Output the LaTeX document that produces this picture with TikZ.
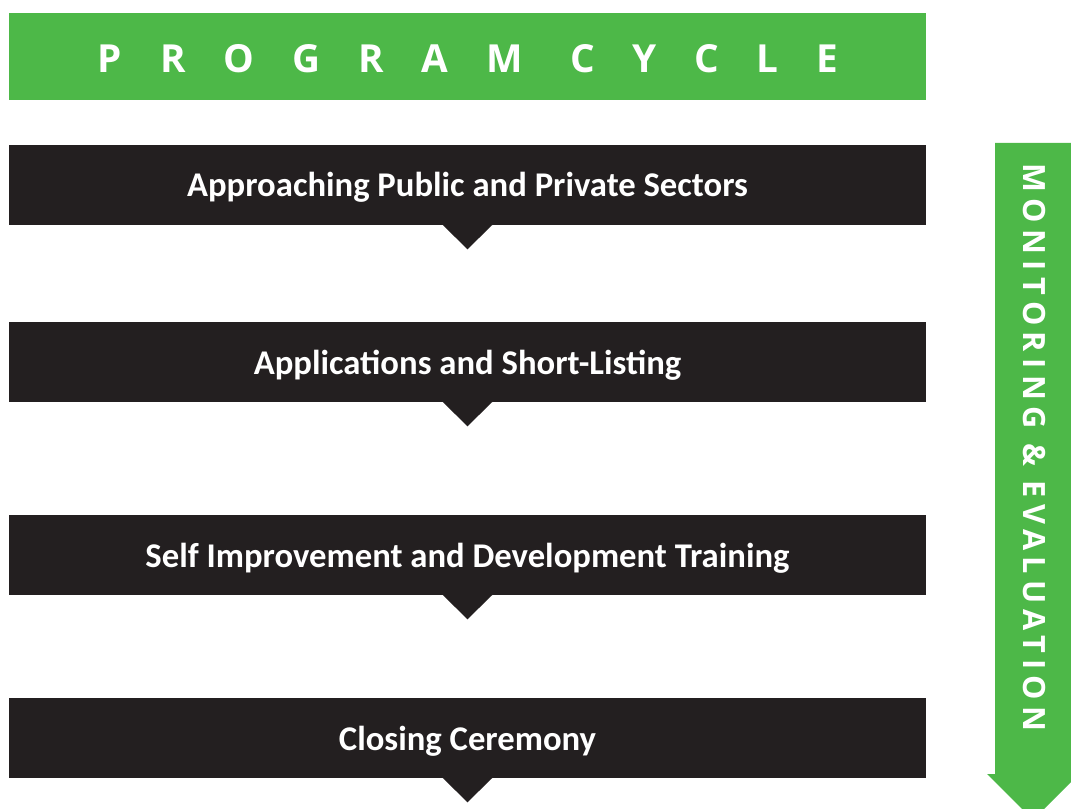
\documentclass[tikz,border=0pt]{standalone}
\usepackage{fontspec}
\setmainfont{Carlito}
\newfontfamily\headfont{Open Sans}
\definecolor{cyclegreen}{RGB}{77,184,72}
\definecolor{barblack}{RGB}{35,31,32}
\begin{document}
\begin{tikzpicture}
  [x=0.75pt,y=-0.75pt,every node/.style={text=white,inner sep=0pt}]
  \tikzstyle{bar} = [fill=barblack,minimum width=687.75pt,minimum height=60pt,
    text height=19pt,text depth=1pt,font=\fontsize{26}{30}\selectfont\bfseries]
  \useasboundingbox (0,0) rectangle (1071,809);
  \clip (0,0) rectangle (1071,809);
  \node[fill=cyclegreen,minimum width=687.75pt,minimum height=65.25pt] (head) at (467.5,56.5) {};
  \node (title) at (468,59) {\headfont\bfseries\fontsize{29}{34}\selectfont
    \addfontfeature{LetterSpace=98}PROGRAM\ CYCLE};
  \node[bar] (b1) at (467.5,185) {Approaching Public and Private Sectors};
  \node[bar] (b2) at (467.5,362) {Applications and Short-Listing};
  \node[bar] (b3) at (467.5,555) {Self Improvement and Development Training};
  \node[bar] (b4) at (467.5,738) {Closing Ceremony};
\foreach \b in {b1,b2,b3,b4}
   \fill[barblack] ([yshift=0.75pt]\b.south) ++(-25.5,0) -- ++(51,0) -- ++(-25.5,25) -- cycle;

  % monitoring arrow
  \fill[cyclegreen] (995,143) -- (1071,143) -- (1071,774) -- (1079,774)
    -- (1033,820) -- (987,774) -- (995,774) -- cycle;
  \node[rotate=-90] (me) at (1034,447.5) {\headfont\bfseries\fontsize{23}{28}\selectfont
    \addfontfeature{LetterSpace=21}MONITORING\ \&\ EVALUATION};
\end{tikzpicture}
\end{document}
